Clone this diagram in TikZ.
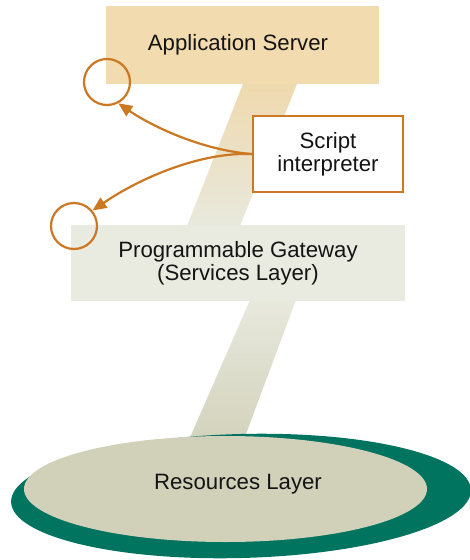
\documentclass[tikz,border=0pt]{standalone}
\usepackage{fontspec}
\setmainfont{Liberation Sans}
\usetikzlibrary{arrows.meta,shapes.geometric}
\definecolor{appfill}{HTML}{F2DBAE}
\definecolor{gatefill}{HTML}{E9EBE1}
\definecolor{accent}{HTML}{CC7722}
\definecolor{basedark}{HTML}{00745F}
\definecolor{baselight}{HTML}{D1D0B9}
\definecolor{shafttop}{HTML}{EFD9AE}
\definecolor{shaftmid}{HTML}{E8E9DD}
\definecolor{shaftlow}{HTML}{D3D2BC}
\definecolor{ink}{HTML}{141414}
\begin{document}
\begin{tikzpicture}[x=1pt,y=-1pt,
  lbl/.style={font=\fontsize{22.2}{23.4}\selectfont, align=center, text=ink},
  layer/.style={rectangle, inner sep=0pt, lbl},
  ring/.style={circle, draw=accent, line width=2.2pt, minimum size=46pt, inner sep=0pt},
  link/.style={draw=accent, line width=2.2pt, -{Triangle[length=14pt,width=12pt]}}]
\useasboundingbox (0,0) rectangle (470,560);

% connecting shafts between the layers
\shade[top color=shafttop, bottom color=shaftmid]
  (243,84) -- (297,84) -- (240,226) -- (187,226) -- cycle;
\shade[top color=shaftmid, bottom color=shaftlow]
  (250,300) -- (296,300) -- (243,442) -- (188,442) -- cycle;

% resources layer base
\fill[basedark, rotate around={1.5:(241,496)}]
  (241,496) ellipse [x radius=230pt, y radius=62pt];
\node[ellipse, fill=baselight, minimum width=403pt, minimum height=106pt,
  inner sep=0pt] (res) at (225.5,489) {};
\node[lbl] (reslabel) at (238,484) {Resources Layer};

% layers
\node[layer, fill=appfill, minimum width=273pt, minimum height=78pt]
  (app) at (242.5,45) {\hspace*{-9pt}Application Server};
\node[layer, fill=gatefill, minimum width=334pt, minimum height=76pt]
  (gate) at (238,263) {Programmable Gateway\\(Services Layer)};

% script interpreter
\node[layer, draw=accent, line width=2.2pt, fill=white,
  minimum width=150pt, minimum height=76pt]
  (script) at (328,154) {Script\\interpreter};

% hook points
\node[ring] (hookA) at (107,82) {};
\node[ring] (hookB) at (74,226) {};

\draw[link] (script.west) .. controls (200,150) and (150,125) .. (hookA.-62);
\draw[link] (script.west) .. controls (200,152) and (140,178) .. (hookB.40);
\end{tikzpicture}
\end{document}
